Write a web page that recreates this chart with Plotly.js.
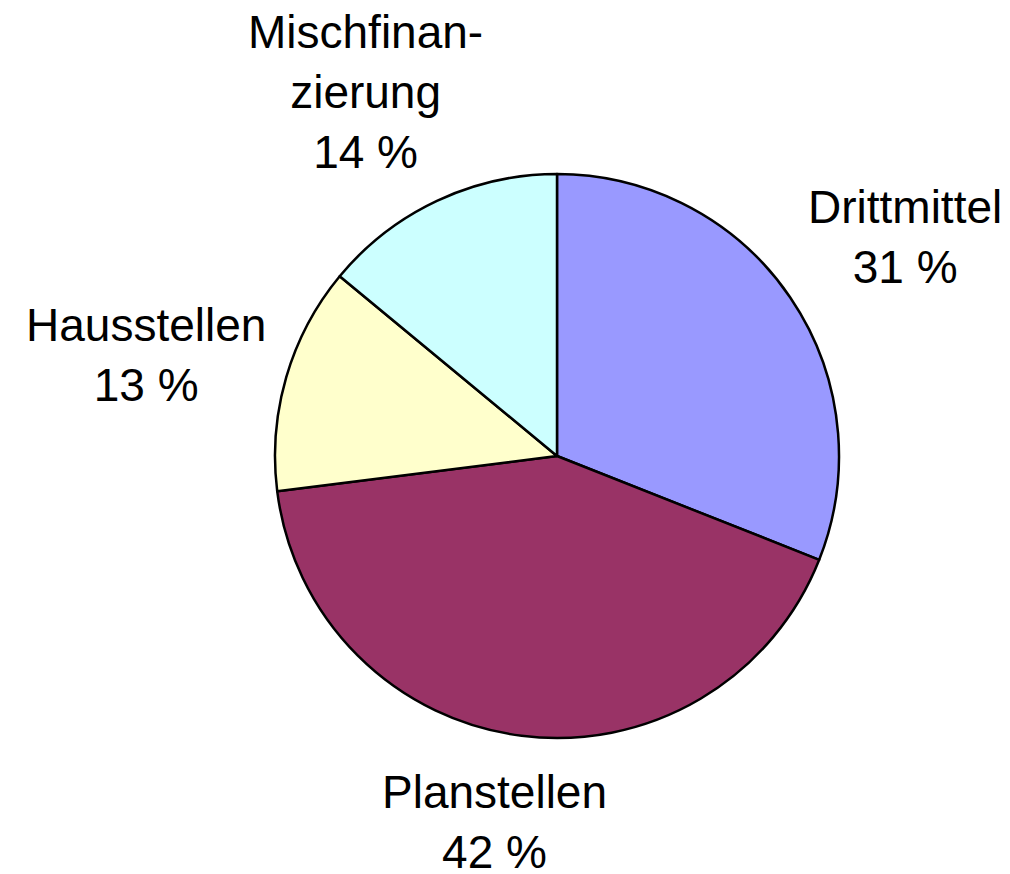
<!DOCTYPE html>
<html>
<head>
<meta charset="utf-8">
<script src="https://cdn.plot.ly/plotly-3.0.1.min.js"></script>
<style>
html, body { margin: 0; padding: 0; background: #ffffff; }
#chart { width: 1010px; height: 874px; }
</style>
</head>
<body>
<div id="chart"></div>
<script>
// Data
var categories = ["Drittmittel", "Planstellen", "Hausstellen", "Mischfinanzierung"];
var labelTexts = ["Drittmittel", "Planstellen", "Hausstellen", "Mischfinan-<br>zierung"];
var values = [31, 42, 13, 14];
var colors = ["#9999FF", "#993366", "#FFFFCC", "#CCFFFF"];

// Label centres (paper pixels) – layout only
var labelPos = [[905, 237], [494, 822], [146, 355], [365, 92]];

var W = 1010, H = 874;
var total = values.reduce(function (a, b) { return a + b; }, 0);

var annotations = categories.map(function (c, i) {
  var pct = Math.round(values[i] / total * 100);
  return {
    text: labelTexts[i] + "<br>" + pct + " %",
    x: labelPos[i][0] / W,
    y: 1 - labelPos[i][1] / H,
    xref: "paper", yref: "paper",
    xanchor: "center", yanchor: "middle",
    showarrow: false,
    align: "center",
    font: { family: "Liberation Sans, Arial, sans-serif", size: 46, color: "#000000" }
  };
});

var trace = {
  type: "pie",
  labels: categories,
  values: values,
  sort: false,
  direction: "clockwise",
  rotation: 0,
  textinfo: "none",
  hoverinfo: "label+percent",
  marker: { colors: colors, line: { color: "#000000", width: 2.5 } },
  domain: { x: [275 / W, 839 / W], y: [1 - 738 / H, 1 - 174 / H] }
};

var layout = {
  width: W, height: H,
  margin: { l: 0, r: 0, t: 0, b: 0 },
  showlegend: false,
  paper_bgcolor: "#ffffff",
  plot_bgcolor: "#ffffff",
  annotations: annotations
};

Plotly.newPlot("chart", [trace], layout, { displayModeBar: false, staticPlot: true });
</script>
</body>
</html>
